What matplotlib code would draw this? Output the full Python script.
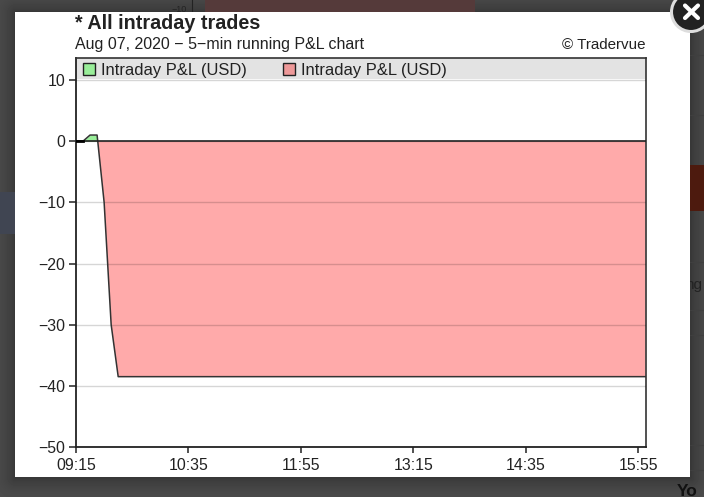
import numpy as np
import matplotlib
matplotlib.use("Agg")
import matplotlib.pyplot as plt
from matplotlib.patches import Patch, Rectangle, Circle

plt.rcParams['font.family'] = ['Liberation Sans', 'DejaVu Sans']

# ---- data ----
times_min = [0, 5, 10, 15, 20, 25, 30, 405]   # minutes after 09:15
pnl = [0, 0, 1, 1, -10, -30, -38.5, -38.5]
tick_minutes = [0, 80, 160, 240, 320, 400]
tick_labels = ['09:15', '10:35', '11:55', '13:15', '14:35', '15:55']
y_ticks = [10, 0, -10, -20, -30, -40, -50]
y_labels = ['10', '0', '\u221210', '\u221220', '\u221230', '\u221240', '\u221250']
title = '* All intraday trades'
subtitle = 'Aug 07, 2020 \u2212 5\u2212min running P&L chart'
credit = '\u00a9 Tradervue'
legend_label = 'Intraday P&L (USD)'

W, H = 704, 497
fig = plt.figure(figsize=(W / 100, H / 100), dpi=100)

# ---- page behind the modal ----
bg = fig.add_axes([0, 0, 1, 1], zorder=0)
bg.set_xlim(0, W); bg.set_ylim(H, 0); bg.axis('off')
yy, xx = np.mgrid[0:H, 0:W]
dx = np.maximum(np.maximum(15 - xx, xx - 690), 0)
dy = np.maximum(np.maximum(12 - yy, yy - 477), 0)
dist = np.hypot(dx, dy)
shade = 80 - 24 * np.exp(-dist / 14)
bg.imshow(shade, cmap='gray', vmin=0, vmax=255, extent=(0, W, H, 0), aspect='auto', zorder=0)
bg.add_patch(Rectangle((205, 0), 270, 12, fc='#553a3a', ec='none', zorder=1))
bg.add_patch(Rectangle((690, 165), 14, 46, fc='#4d1a0e', ec='none', zorder=1))
bg.add_patch(Rectangle((0, 192), 15, 42, fc='#404552', ec='none', zorder=1))
bg.plot([192, 192], [0, 12], color='#222222', lw=0.8, zorder=1)
bg.text(187, 10, '\u221210', fontsize=6.5, color='#222222', ha='right', va='center', zorder=1)
for y0 in [55, 115, 262, 310, 335, 445, 470]:
    bg.plot([690, 704], [y0, y0], color='#3f3f3f', lw=0.8, zorder=1)
bg.text(702, 285, 'ng', fontsize=11, color='#222222', ha='right', va='center', zorder=1, clip_on=True)
bg.text(677, 491, 'Yo', fontsize=12.5, fontweight='bold', color='#111111', ha='left', va='center', zorder=1, clip_on=True)
bg.add_patch(Rectangle((15, 12), 675, 465, fc='white', ec='none', zorder=2))
bg.set_xlim(0, W); bg.set_ylim(H, 0)

# ---- chart ----
left, right, top, bottom = 76, 645.5, 58, 447
ax = fig.add_axes([left / W, 1 - bottom / H, (right - left) / W, (bottom - top) / H], zorder=2)
ax.patch.set_alpha(0)
px_per_unit = (447 - 80) / 60
ax.set_xlim(0, 405)
ax.set_ylim(-50, 10 + (80 - top) / px_per_unit)

t = np.array(times_min, dtype=float)
v = np.array(pnl, dtype=float)
ax.fill_between(t, v, 0, where=v >= 0, interpolate=True, color='#99ee99', lw=0, zorder=1)
ax.fill_between(t, v, 0, where=v <= 0, interpolate=True, color='#ffaaaa', lw=0, zorder=1)
ax.set_yticks(y_ticks, y_labels)
ax.set_xticks(tick_minutes, tick_labels)
ax.tick_params(axis='y', length=5.2, width=1.1, color='#222222', labelsize=11.4,
               labelcolor='#222222', pad=2.5)
ax.tick_params(axis='x', length=4.3, width=1.1, color='#222222', labelsize=11.4,
               labelcolor='#222222', pad=3.5)
ax.grid(axis='y', color='black', alpha=0.16, lw=1.0, zorder=2)
ax.set_axisbelow(False)
ax.plot(t, v, color='#333333', lw=1.1, zorder=3)
ax.axhline(0, color='#222222', lw=1.2, zorder=3)
ax.plot(t[:2], v[:2], color='black', lw=2, zorder=4)
for side in ['left', 'bottom']:
    ax.spines[side].set_linewidth(1.3); ax.spines[side].set_color('#222222')
for side in ['top', 'right']:
    ax.spines[side].set_linewidth(1.2); ax.spines[side].set_color('#333333')

# legend band along the plot top
band_low = 10 + 1 / px_per_unit
ax.add_patch(Rectangle((0, band_low), 405, ax.get_ylim()[1] - band_low, fc='#e3e3e3', ec='none', zorder=1))
handles = [Patch(fc='#99ee99', ec='#222222', lw=1.0, label=legend_label),
           Patch(fc='#ee9999', ec='#222222', lw=1.0, label=legend_label)]
ax.legend(handles=handles, ncol=2, loc='upper left', frameon=False, fontsize=11.9,
          handlelength=0.72, handleheight=0.72, handletextpad=0.35, columnspacing=2.2,
          borderaxespad=0, borderpad=0.2, labelcolor='#222222',
          bbox_to_anchor=(4 / (right - left), 1 - 1.5 / (bottom - top)))

fig.text(75 / W, 1 - 23.5 / H, title, fontsize=14.2, fontweight='bold', color='#222222', ha='left', va='center')
fig.text(75 / W, 1 - 45 / H, subtitle, fontsize=11.5, color='#222222', ha='left', va='center')
fig.text(645 / W, 1 - 45 / H, credit, fontsize=10.9, color='#222222', ha='right', va='center')

# ---- close button ----
ov = fig.add_axes([0, 0, 1, 1], zorder=3)
ov.set_xlim(0, W); ov.set_ylim(H, 0); ov.axis('off'); ov.patch.set_alpha(0)
ov.add_patch(Circle((691, 12), 19.5, fc='#222222', ec='#dddddd', lw=2.2))
ov.plot([685, 698], [5.5, 18], color='white', lw=3, solid_capstyle='round')
ov.plot([685, 698], [18, 5.5], color='white', lw=3, solid_capstyle='round')

fig.savefig('out.png', dpi=100)
